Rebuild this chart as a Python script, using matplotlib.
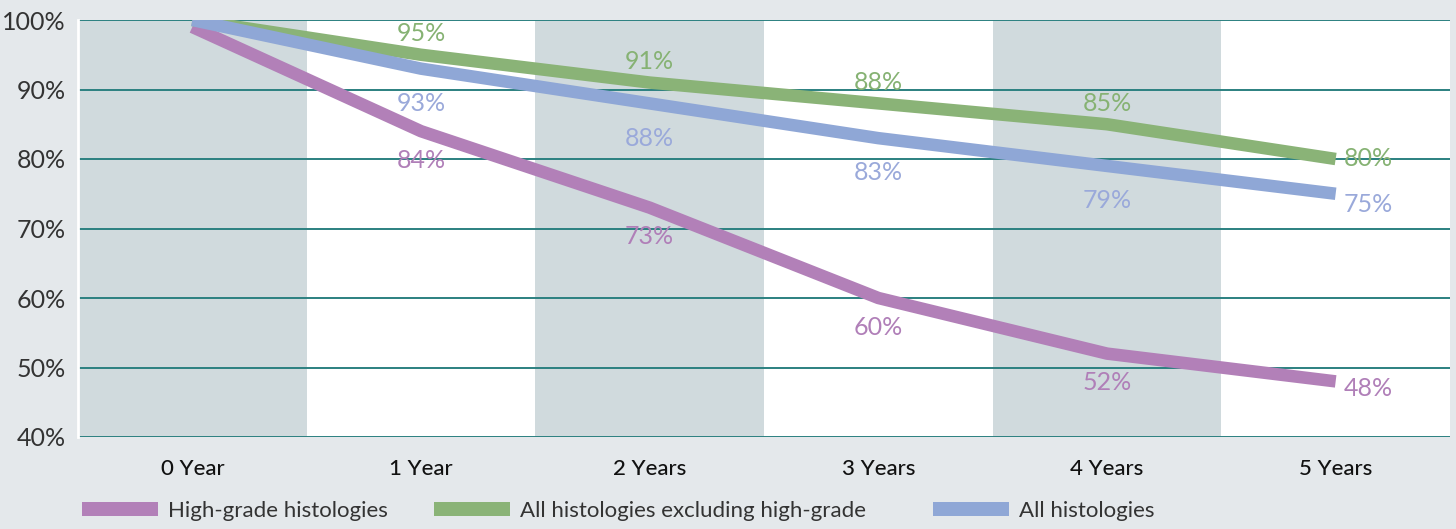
import matplotlib
matplotlib.use("Agg")
import matplotlib.pyplot as plt
from matplotlib.patches import Patch

categories = ["0 Year", "1 Year", "2 Years", "3 Years", "4 Years", "5 Years"]
high_grade = [99, 84, 73, 60, 52, 48]
excl_high_grade = [100, 95, 91, 88, 85, 80]
all_hist = [100, 93, 88, 83, 79, 75]
series_names = ["High-grade histologies", "All histologies excluding high-grade", "All histologies"]
yticks = [40, 50, 60, 70, 80, 90, 100]

bg = "#e4e8eb"
col_gray = "#d0dadd"
grid_c = "#2b8080"
colors = ["#b280b8", "#8ab377", "#8fa7d6"]
label_colors = ["#b07fb8", "#86b273", "#9aa9da"]

plt.rcParams['font.family'] = ['Lato', 'DejaVu Sans']

fig = plt.figure(figsize=(14.56, 5.29), dpi=100, facecolor=bg)
W, H = 1456, 529
ax = fig.add_axes([78 / W, (H - 437) / H, (1450 - 78) / W, (437 - 20) / H])
ax.set_facecolor("white")

n = len(categories)
for i in range(n):
    if i % 2 == 0:
        ax.axvspan(i - 0.5, i + 0.5, color=col_gray, zorder=0, lw=0)

for y in yticks:
    ax.axhline(y, color=grid_c, lw=1.4, zorder=1)

x = list(range(n))
data = [high_grade, excl_high_grade, all_hist]
for k in range(3):
    ax.plot(x, data[k], color=colors[k], lw=9, solid_capstyle="butt",
            solid_joinstyle="round", zorder=3)

# value label offsets (points): mid points vertical, end points vertical
offsets = [21, -15, 25]
end_offsets = [-5, 0, -8]
for k, vals in enumerate(data):
    for i in range(1, n):
        if i == n - 1:
            ax.annotate(f"{vals[i]}%", (x[i], vals[i]), xytext=(6, end_offsets[k]),
                        textcoords="offset points", ha="left", va="center",
                        color=label_colors[k], fontsize=18, zorder=4)
        else:
            ax.annotate(f"{vals[i]}%", (x[i], vals[i]), xytext=(0, -offsets[k]),
                        textcoords="offset points", ha="center", va="center",
                        color=label_colors[k], fontsize=18, zorder=4)

ax.set_xlim(-0.5, n - 0.5)
ax.set_ylim(40, 100)
ax.set_yticks(yticks)
ax.set_yticklabels([f"{v}%" for v in yticks], fontsize=18, color="#333333")
ax.set_xticks(x)
ax.set_xticklabels(categories, fontsize=16, color="#111111", fontweight="medium")
ax.tick_params(axis="both", length=0)
ax.tick_params(axis="y", pad=9)
ax.tick_params(axis="x", pad=16)
for s in ax.spines.values():
    s.set_visible(False)
ax.spines["left"].set_visible(True)
ax.spines["left"].set_color("white")
ax.spines["left"].set_linewidth(2)

# legend entries placed at their positions along the bottom
leg_x = [82, 434, 933]
for k in range(3):
    fig.legend([Patch(facecolor=colors[k], edgecolor="none")], [series_names[k]],
               loc="center left", bbox_to_anchor=(leg_x[k] / W, 1 - 511 / H),
               frameon=False, fontsize=16, handlelength=3.4, handleheight=0.6,
               handletextpad=0.45, borderpad=0, borderaxespad=0,
               labelcolor="#333333")

fig.savefig("out.png", dpi=100, facecolor=bg)
